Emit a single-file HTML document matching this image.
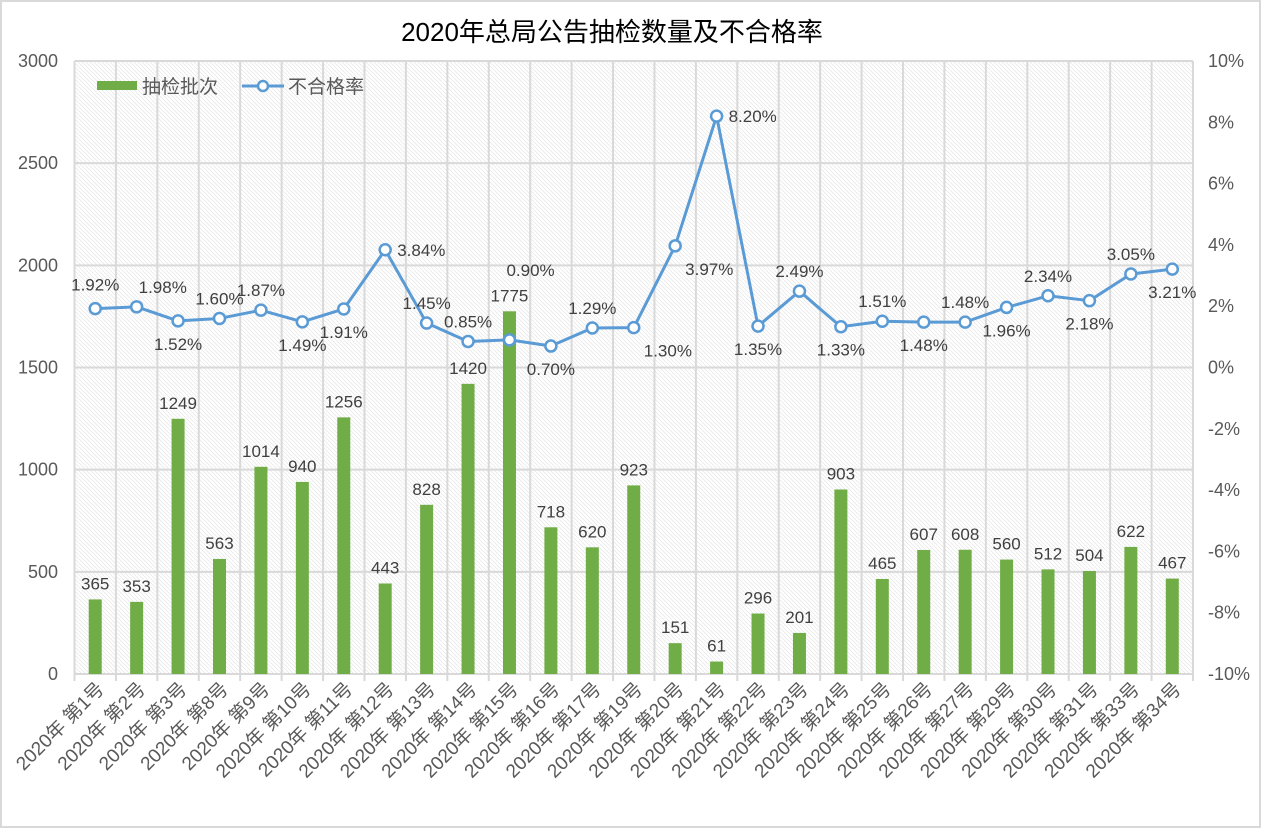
<!DOCTYPE html>
<html><head><meta charset="utf-8">
<style>
body{margin:0;background:#fff;}
svg{display:block;font-family:"Liberation Sans","Noto Sans CJK SC",sans-serif;}
</style></head>
<body>
<svg id="chart" width="1261" height="828" viewBox="0 0 1261 828">
<defs>
<pattern id="hatch" width="4" height="4" patternUnits="userSpaceOnUse">
<rect width="4" height="4" fill="#fff"/>
<path d="M-1,-1 L5,5 M-1,3 L1,5 M3,-1 L5,1" stroke="#e6e6e6" stroke-width="0.7"/>
</pattern>
</defs>
<rect x="1" y="1" width="1259" height="826" fill="#fff" stroke="#d9d9d9" stroke-width="2"/>
<text x="612" y="41" text-anchor="middle" font-size="26" fill="#000">2020年总局公告抽检数量及不合格率</text>
<g id="plot"></g>
<g>
<rect x="97" y="81" width="40" height="9" fill="#70ad47"/>
<text x="142" y="93" font-size="19" fill="#595959">抽检批次</text>
<line x1="242" y1="86" x2="284" y2="86" stroke="#5b9bd5" stroke-width="3"/>
<circle cx="263" cy="86" r="5" fill="#fff" stroke="#5b9bd5" stroke-width="2.5"/>
<text x="288" y="93" font-size="19" fill="#595959">不合格率</text>
</g>
</svg>
<script>
const categories=["第1号","第2号","第3号","第8号","第9号","第10号","第11号","第12号","第13号","第14号","第15号","第16号","第17号","第19号","第20号","第21号","第22号","第23号","第24号","第25号","第26号","第27号","第29号","第30号","第31号","第33号","第34号"];
const batches=[365,353,1249,563,1014,940,1256,443,828,1420,1775,718,620,923,151,61,296,201,903,465,607,608,560,512,504,622,467];
const rates=[1.92,1.98,1.52,1.60,1.87,1.49,1.91,3.84,1.45,0.85,0.90,0.70,1.29,1.30,3.97,8.20,1.35,2.49,1.33,1.51,1.48,1.48,1.96,2.34,2.18,3.05,3.21];
const leftTicks=[0,500,1000,1500,2000,2500,3000];
const rightTicks=[-10,-8,-6,-4,-2,0,2,4,6,8,10];
const ratePos=["al","ar","b","a","a","b","b","r","a","a","ar","b","a","br","br","r","b","a","b","a","b","a","b","a","b","a","b"];

const NS="http://www.w3.org/2000/svg";
const g=document.getElementById('plot');
const X0=74.5,X1=1193,Y0=674,Y1=61;
const bw=(X1-X0)/categories.length;
const xC=i=>X0+bw*(i+0.5);
const yL=v=>Y0-(v/3000)*(Y0-Y1);
const yR=v=>Y0-((v+10)/20)*(Y0-Y1);
function mk(t,a,p){const e=document.createElementNS(NS,t);for(const k in a)e.setAttribute(k,a[k]);(p||g).appendChild(e);return e;}

const bg=mk('rect',{x:X0,y:Y1,width:X1-X0,height:Y0-Y1,fill:'url(#hatch)'});



leftTicks.forEach(v=>{
  const l=mk('line',{x1:X0,x2:X1,y1:yL(v),y2:yL(v),stroke:'#d9d9d9','stroke-width':2});
  
  
  const t=mk('text',{x:58,y:yL(v)+6,'text-anchor':'end','font-size':18,fill:'#595959'});
  t.textContent=v;
  
  
});
rightTicks.forEach(v=>{
  const t=mk('text',{x:1208,y:yR(v)+6,'font-size':18,fill:'#595959'});
  t.textContent=v+'%';
  
  
});
for(let i=0;i<=categories.length;i++){
  const x=X0+bw*i;
  const l=mk('line',{x1:x,x2:x,y1:Y1,y2:Y0+7,stroke:'#d9d9d9','stroke-width':2});
  
  
}
categories.forEach((c,i)=>{
  const b=mk('rect',{x:xC(i)-6.5,y:yL(batches[i]),width:13,height:Y0-yL(batches[i]),fill:'#70ad47'});
  
  
  const t=mk('text',{x:xC(i),y:yL(batches[i])-10,'text-anchor':'middle','font-size':17,fill:'#404040'});
  t.textContent=batches[i];
  
  
  const xl=mk('text',{transform:`translate(${xC(i)+10},${Y0+16}) rotate(-45)`,'text-anchor':'end','font-size':19,fill:'#595959'});
  xl.textContent='2020年 '+c;
  
  
});
const pts=rates.map((r,i)=>xC(i)+','+yR(r)).join(' ');
const line=mk('polyline',{points:pts,fill:'none',stroke:'#5b9bd5','stroke-width':3,'stroke-linejoin':'round'});


rates.forEach((r,i)=>{
  const x=xC(i),y=yR(r);
  const c=mk('circle',{cx:x,cy:y,r:5.5,fill:'#fff',stroke:'#5b9bd5','stroke-width':2.5});
  
  
  const p=ratePos[i];let tx=x,ty=y,anc='middle';
  if(p==='a'){ty=y-14;}
  else if(p==='b'){ty=y+29;}
  else if(p==='r'){tx=x+12;ty=y+6;anc='start';}
  else if(p==='br'){tx=x+10;ty=y+29;anc='start';}
  else if(p==='ar'){tx=x+2;ty=y-14;anc='start';}
  else if(p==='al'){tx=x;ty=y-18;}
  if(i===10){tx=x-3;ty=y-64;}
  const t=mk('text',{x:tx,y:ty,'text-anchor':anc,'font-size':17,fill:'#404040'});
  t.textContent=r.toFixed(2)+'%';
  
  
});
</script>
</body></html>
